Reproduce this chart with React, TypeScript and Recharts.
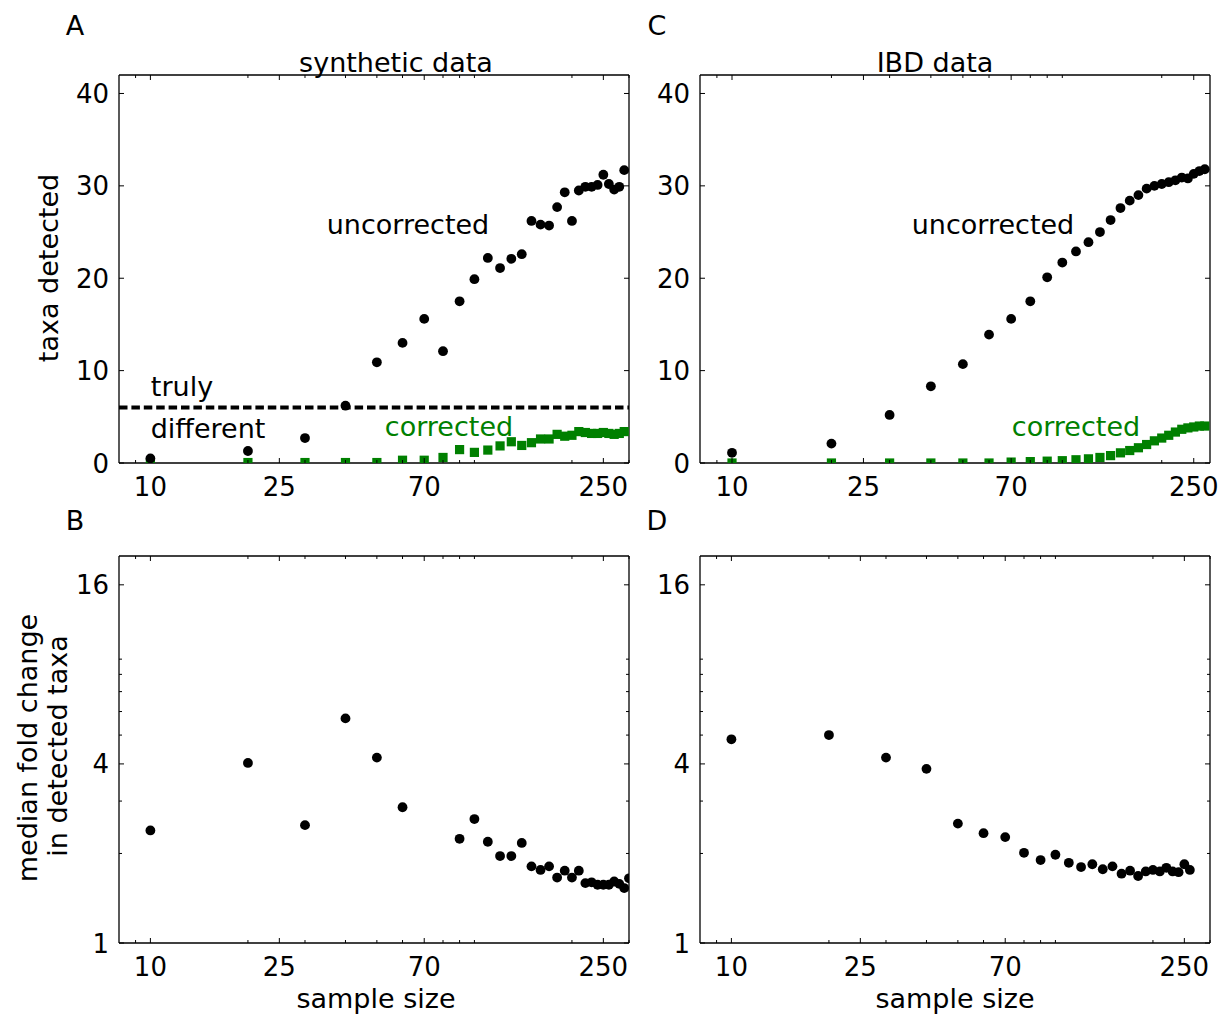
import React from 'react';
import { ScatterChart, Scatter, XAxis, YAxis, ReferenceLine } from 'recharts';

const W = 1223;
const H = 1014;
const FONT = '"DejaVu Sans", sans-serif';
const GREEN = '#008000';

// A: synthetic data, taxa detected
const synthN = [10, 20, 30, 40, 50, 60, 70, 80, 90, 100, 110, 120, 130, 140, 150, 160, 170, 180, 190, 200, 210, 220, 230, 240, 250, 260, 270, 280, 290];
const synthUncorrected = [0.5, 1.3, 2.7, 6.2, 10.9, 13.0, 15.6, 12.1, 17.5, 19.9, 22.2, 21.1, 22.1, 22.6, 26.2, 25.8, 25.7, 27.7, 29.3, 26.2, 29.5, 29.9, 29.9, 30.1, 31.2, 30.2, 29.6, 29.9, 31.7];
const synthCorrected = [0, 0.05, 0.05, 0.05, 0.05, 0.3, 0.3, 0.6, 1.45, 1.15, 1.4, 1.85, 2.3, 1.9, 2.2, 2.6, 2.6, 3.1, 2.9, 3.0, 3.4, 3.3, 3.2, 3.2, 3.3, 3.2, 3.1, 3.2, 3.4];
const truthLevel = 6;

// C: IBD data, taxa detected
const ibdN = [10, 20, 30, 40, 50, 60, 70, 80, 90, 100, 110, 120, 130, 140, 150, 160, 170, 180, 190, 200, 210, 220, 230, 240, 250, 260, 270];
const ibdUncorrected = [1.1, 2.1, 5.2, 8.3, 10.7, 13.9, 15.6, 17.5, 20.1, 21.7, 22.9, 23.9, 25.0, 26.3, 27.6, 28.4, 29.0, 29.7, 30.0, 30.2, 30.4, 30.6, 30.9, 30.8, 31.3, 31.6, 31.8];
const ibdCorrected = [0, 0, 0, 0, 0, 0, 0.1, 0.15, 0.2, 0.25, 0.35, 0.45, 0.6, 0.8, 1.1, 1.35, 1.65, 2.0, 2.4, 2.7, 3.0, 3.35, 3.65, 3.8, 3.9, 4.0, 4.0];

// B: synthetic data, median fold change
const synthFoldN = [10, 20, 30, 40, 50, 60, 90, 100, 110, 120, 130, 140, 150, 160, 170, 180, 190, 200, 210, 220, 230, 240, 250, 260, 270, 280, 290, 300];
const synthFold = [2.39, 4.03, 2.49, 5.69, 4.2, 2.86, 2.24, 2.61, 2.19, 1.96, 1.96, 2.17, 1.81, 1.76, 1.81, 1.66, 1.75, 1.66, 1.75, 1.59, 1.6, 1.57, 1.57, 1.57, 1.61, 1.58, 1.53, 1.65];

// D: IBD data, median fold change
const ibdFoldN = [10, 20, 30, 40, 50, 60, 70, 80, 90, 100, 110, 120, 130, 140, 150, 160, 170, 180, 190, 200, 210, 220, 230, 240, 250, 260];
const ibdFold = [4.84, 5.0, 4.2, 3.85, 2.52, 2.34, 2.27, 2.01, 1.9, 1.98, 1.86, 1.8, 1.84, 1.77, 1.81, 1.71, 1.75, 1.68, 1.74, 1.76, 1.74, 1.79, 1.74, 1.73, 1.84, 1.76];

const xMajor = [10, 25, 70, 250];
const xMinor = [9, 20, 30, 40, 50, 60, 80, 90, 100, 200, 300];
const countTicks = [0, 10, 20, 30, 40];
const foldMajor = [1, 4, 16];
const foldMinor = [2, 3, 5, 6, 7, 8, 9];

const pairs = (xs: number[], ys: number[]) => xs.map((n, i) => ({ n, v: ys[i] }));

const Dot = (p: any) => <circle cx={p.cx} cy={p.cy} r={4.9} fill="#000" />;
const Square = (p: any) => <rect x={p.cx - 4.6} y={p.cy - 4.6} width={9.2} height={9.2} fill={GREEN} />;

const txt = { fontSize: 26, fontFamily: FONT, fill: '#000' };

function makeXTick(side: 'bottom' | 'top') {
  return (p: any) => {
    const major = xMajor.includes(p.payload.value);
    const len = major ? 5 : 3;
    const y2 = side === 'bottom' ? p.y - len : p.y + len;
    return (
      <g>
        <line x1={p.x} x2={p.x} y1={p.y} y2={y2} stroke="#000" strokeWidth={1} />
        {side === 'bottom' && major && (
          <text x={p.x} y={p.y + 33} textAnchor="middle" {...txt}>{p.payload.value}</text>
        )}
      </g>
    );
  };
}

function makeYTick(side: 'left' | 'right', majors: number[]) {
  return (p: any) => {
    const major = majors.includes(p.payload.value);
    const len = major ? 5 : 3;
    const x2 = side === 'left' ? p.x + len : p.x - len;
    return (
      <g>
        <line x1={p.x} x2={x2} y1={p.y} y2={p.y} stroke="#000" strokeWidth={1} />
        {side === 'left' && major && (
          <text x={p.x - 10} y={p.y + 9.5} textAnchor="end" {...txt}>{p.payload.value}</text>
        )}
      </g>
    );
  };
}

const frame = { stroke: '#000', strokeWidth: 1.3 };

// axis band sizes (space reserved by recharts for each axis)
const LEFT_W = 60;
const RIGHT_W = 10;
const TOP_H = 10;
const BOTTOM_H = 30;

type PanelProps = {
  left: number; top: number; right: number; bottom: number;
  xMax: number; yDomain: number[]; yLog: boolean;
  yTicks: number[]; yMajor: number[]; children: React.ReactNode;
};

function Panel({ left, top, right, bottom, xMax, yDomain, yLog, yTicks, yMajor, children }: PanelProps) {
  const margin = {
    left: left - LEFT_W, top: top - TOP_H,
    right: W - right - RIGHT_W, bottom: H - bottom - BOTTOM_H,
  };
  const xTicks = [...xMajor, ...xMinor].filter(v => v >= 8 && v <= xMax).sort((a, b) => a - b);
  const yScale = yLog ? 'log' : 'linear';
  return (
    <div style={{ position: 'absolute', left: 0, top: 0 }}>
      <ScatterChart width={W} height={H} margin={margin}>
        <XAxis xAxisId="b" orientation="bottom" type="number" dataKey="n" scale="log" domain={[8, xMax]}
          allowDataOverflow ticks={xTicks} interval={0} height={BOTTOM_H} tickSize={0} tickMargin={0}
          tickLine={false} axisLine={frame} tick={makeXTick('bottom')} />
        <XAxis xAxisId="t" orientation="top" type="number" dataKey="n" scale="log" domain={[8, xMax]}
          allowDataOverflow ticks={xTicks} interval={0} height={TOP_H} tickSize={0} tickMargin={0}
          tickLine={false} axisLine={frame} tick={makeXTick('top')} />
        <YAxis yAxisId="l" orientation="left" type="number" dataKey="v" scale={yScale} domain={yDomain}
          allowDataOverflow ticks={yTicks} interval={0} width={LEFT_W} tickSize={0} tickMargin={0}
          tickLine={false} axisLine={frame} tick={makeYTick('left', yMajor)} />
        <YAxis yAxisId="r" orientation="right" type="number" dataKey="v" scale={yScale} domain={yDomain}
          allowDataOverflow ticks={yTicks} interval={0} width={RIGHT_W} tickSize={0} tickMargin={0}
          tickLine={false} axisLine={frame} tick={makeYTick('right', yMajor)} />
        {children}
      </ScatterChart>
    </div>
  );
}

function Label({ x, y, children, color = '#000', rotate = false }: any) {
  return (
    <div style={{
      position: 'absolute', left: x, top: y,
      transform: `translate(-50%, -50%)${rotate ? ' rotate(-90deg)' : ''}`,
      fontFamily: FONT, fontSize: 27, lineHeight: 1, color, whiteSpace: 'nowrap',
    }}>{children}</div>
  );
}

export default function App() {
  return (
    <div style={{ position: 'absolute', left: 0, top: 0, width: W, height: H, background: '#fff', overflow: 'hidden' }}>
      {/* A */}
      <Panel left={119} top={75} right={629} bottom={463} xMax={300} yDomain={[0, 42]} yLog={false}
        yTicks={countTicks} yMajor={countTicks}>
        <ReferenceLine xAxisId="b" yAxisId="l" y={truthLevel} stroke="#000" strokeWidth={4} strokeDasharray="8.5 3.9" />
        <Scatter xAxisId="b" yAxisId="l" data={pairs(synthN, synthCorrected)} shape={Square} isAnimationActive={false} />
        <Scatter xAxisId="b" yAxisId="l" data={pairs(synthN, synthUncorrected)} shape={Dot} isAnimationActive={false} />
      </Panel>
      {/* C */}
      <Panel left={700} top={75} right={1210} bottom={463} xMax={280} yDomain={[0, 42]} yLog={false}
        yTicks={countTicks} yMajor={countTicks}>
        <Scatter xAxisId="b" yAxisId="l" data={pairs(ibdN, ibdCorrected)} shape={Square} isAnimationActive={false} />
        <Scatter xAxisId="b" yAxisId="l" data={pairs(ibdN, ibdUncorrected)} shape={Dot} isAnimationActive={false} />
      </Panel>
      {/* B */}
      <Panel left={119} top={556} right={629} bottom={943} xMax={300} yDomain={[1, 20]} yLog
        yTicks={[...foldMajor, ...foldMinor].sort((a, b) => a - b)} yMajor={foldMajor}>
        <Scatter xAxisId="b" yAxisId="l" data={pairs(synthFoldN, synthFold)} shape={Dot} isAnimationActive={false} />
      </Panel>
      {/* D */}
      <Panel left={700} top={556} right={1210} bottom={943} xMax={300} yDomain={[1, 20]} yLog
        yTicks={[...foldMajor, ...foldMinor].sort((a, b) => a - b)} yMajor={foldMajor}>
        <Scatter xAxisId="b" yAxisId="l" data={pairs(ibdFoldN, ibdFold)} shape={Dot} isAnimationActive={false} />
      </Panel>

      <Label x={75} y={25}>A</Label>
      <Label x={657} y={25}>C</Label>
      <Label x={75} y={520}>B</Label>
      <Label x={657} y={520}>D</Label>
      <Label x={396} y={62}>synthetic data</Label>
      <Label x={935} y={62}>IBD data</Label>
      <Label x={48} y={268} rotate>taxa detected</Label>
      <Label x={27} y={748} rotate>median fold change</Label>
      <Label x={57} y={746} rotate>in detected taxa</Label>
      <Label x={376} y={998}>sample size</Label>
      <Label x={955} y={998}>sample size</Label>
      <Label x={408} y={224}>uncorrected</Label>
      <Label x={993} y={224}>uncorrected</Label>
      <Label x={182} y={386}>truly</Label>
      <Label x={208} y={428}>different</Label>
      <Label x={449} y={426} color={GREEN}>corrected</Label>
      <Label x={1076} y={426} color={GREEN}>corrected</Label>
    </div>
  );
}
